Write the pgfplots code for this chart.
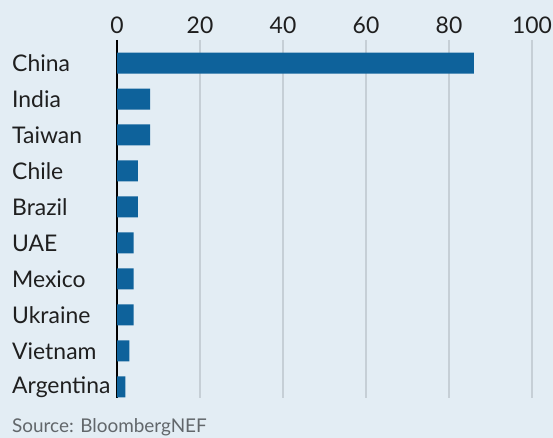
\documentclass[border=0pt]{standalone}
\usepackage{fontspec}
\setmainfont{Lato}
\usepackage{pgfplots}
\pgfplotsset{compat=1.18}
\definecolor{bg}{HTML}{E3EDF4}
\definecolor{barblue}{HTML}{0E629B}
\definecolor{gridgray}{HTML}{C6CFD6}
\definecolor{srcgray}{HTML}{62676B}
\begin{document}
\begin{tikzpicture}[x=1bp,y=1bp]
\fill[bg] (0,0) rectangle (553,438);
\begin{axis}[
    at={(117bp,40bp)}, anchor=south west,
    scale only axis,
    width=415bp, height=358bp,
    xbar, bar width=21bp,
    xmin=0, xmax=100,
    ymin=-0.64, ymax=9.31,
    y dir=reverse,
    xtick={20,40,60,80,100},
    extra x ticks={0},
    extra x tick style={grid style={black, line width=1.6bp}},
    xticklabel pos=upper,
    ytick={0,...,9},
    yticklabels={China,India,Taiwan,Chile,Brazil,UAE,Mexico,Ukraine,Vietnam,Argentina},
    major tick length=0pt,
    xmajorgrids,
    grid style={gridgray, line width=1.2bp},
    axis line style={draw=none},
    tick label style={font=\fontsize{23}{26}\selectfont, text=black!88},
    yticklabel style={anchor=west, inner sep=0pt, xshift=-105bp},
    xticklabel style={inner sep=0pt, yshift=6bp},
    /pgf/number format/assume math mode=true,
    clip=false,
]
\addplot[fill=barblue, draw=none] coordinates {
    (86,0) (8,1) (8,2) (5,3) (5,4) (4,5) (4,6) (4,7) (3,8) (2,9)
};
\end{axis}
\node[anchor=west, inner sep=0pt, text=srcgray, font=\fontsize{19}{21}\selectfont] at (12,11) {Source: BloombergNEF};
\end{tikzpicture}
\end{document}
